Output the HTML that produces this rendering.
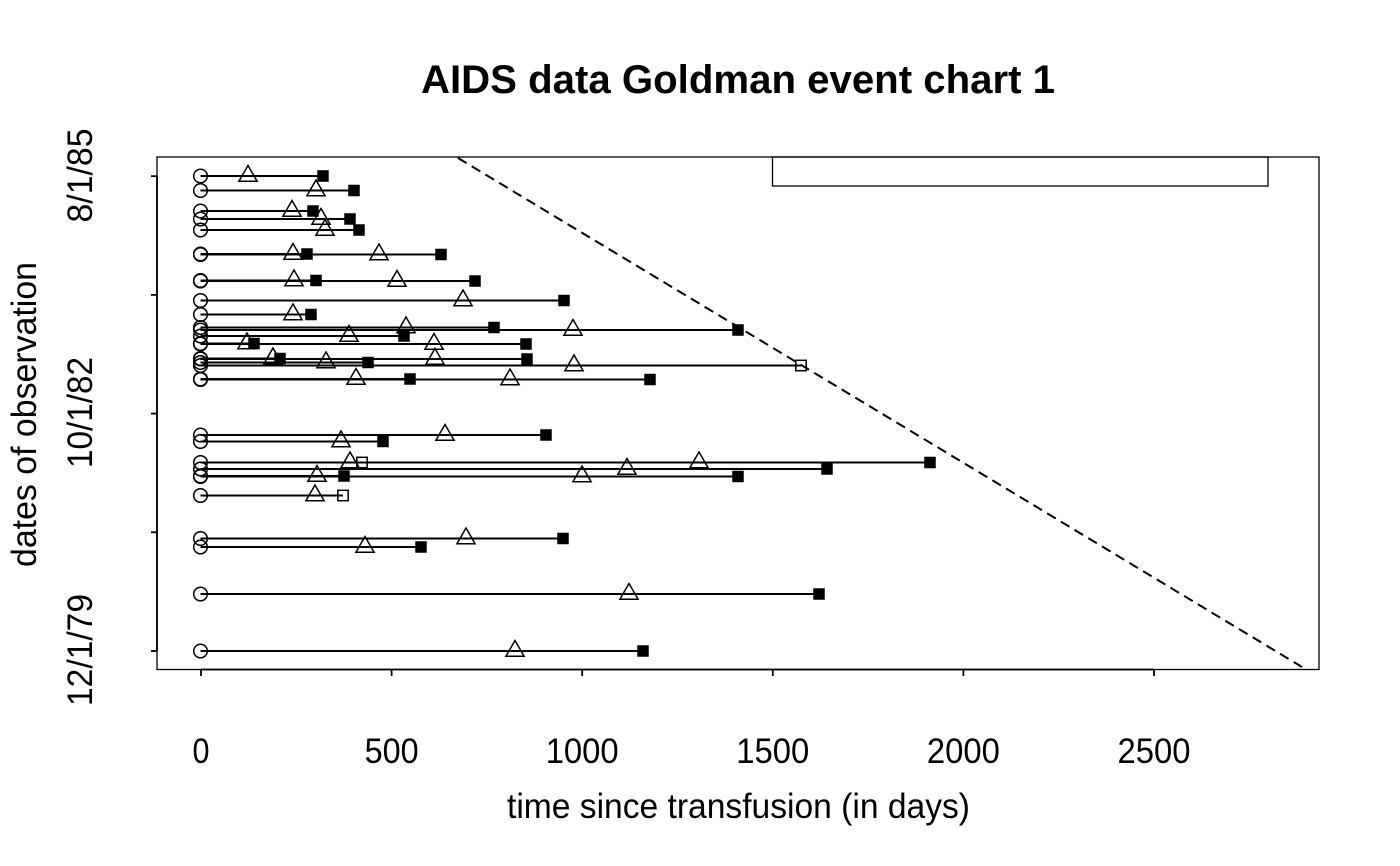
<!DOCTYPE html>
<html>
<head>
<meta charset="utf-8">
<style>
html,body{margin:0;padding:0;background:#fff;}
svg{display:block;}
text{font-family:"Liberation Sans",sans-serif;fill:#000;}
</style>
</head>
<body>
<svg width="1400" height="866" viewBox="0 0 1400 866" xmlns="http://www.w3.org/2000/svg">
<rect width="1400" height="866" fill="#fff"/>
<text x="738" y="93" font-size="40" font-weight="bold" text-anchor="middle" textLength="634" lengthAdjust="spacingAndGlyphs">AIDS data Goldman event chart 1</text>

<!-- box -->
<rect x="157" y="157" width="1162" height="512.5" fill="none" stroke="#000" stroke-width="1.3"/>
<!-- legend rect -->
<rect x="772.5" y="157" width="495.5" height="29" fill="none" stroke="#000" stroke-width="1.3"/>

<!-- x axis -->
<g stroke="#000" stroke-width="1.8" fill="none">
<line x1="201" y1="669.5" x2="1154" y2="669.5"/>
<line x1="201" y1="669.5" x2="201" y2="676"/>
<line x1="391.6" y1="669.5" x2="391.6" y2="676"/>
<line x1="582.2" y1="669.5" x2="582.2" y2="676"/>
<line x1="772.8" y1="669.5" x2="772.8" y2="676"/>
<line x1="963.4" y1="669.5" x2="963.4" y2="676"/>
<line x1="1154" y1="669.5" x2="1154" y2="676"/>
<!-- y axis -->
<line x1="157" y1="176.2" x2="157" y2="651"/>
<line x1="151" y1="176.2" x2="157" y2="176.2"/>
<line x1="151" y1="294.9" x2="157" y2="294.9"/>
<line x1="151" y1="413.6" x2="157" y2="413.6"/>
<line x1="151" y1="532.3" x2="157" y2="532.3"/>
<line x1="151" y1="651" x2="157" y2="651"/>
</g>

<g font-size="35" text-anchor="middle">
<text x="201" y="763" textLength="17" lengthAdjust="spacingAndGlyphs">0</text>
<text x="391.6" y="763" textLength="54" lengthAdjust="spacingAndGlyphs">500</text>
<text x="582.2" y="763" textLength="73" lengthAdjust="spacingAndGlyphs">1000</text>
<text x="772.8" y="763" textLength="73" lengthAdjust="spacingAndGlyphs">1500</text>
<text x="963.4" y="763" textLength="73" lengthAdjust="spacingAndGlyphs">2000</text>
<text x="1154" y="763" textLength="73" lengthAdjust="spacingAndGlyphs">2500</text>
</g>
<text x="738.5" y="818" font-size="35" text-anchor="middle" textLength="463" lengthAdjust="spacingAndGlyphs">time since transfusion (in days)</text>

<g font-size="35" text-anchor="middle">
<text transform="translate(92,175.5) rotate(-90)" textLength="94" lengthAdjust="spacingAndGlyphs">8/1/85</text>
<text transform="translate(92,412.5) rotate(-90)" textLength="111" lengthAdjust="spacingAndGlyphs">10/1/82</text>
<text transform="translate(92,650) rotate(-90)" textLength="112" lengthAdjust="spacingAndGlyphs">12/1/79</text>
</g>
<text transform="translate(36,414.5) rotate(-90)" font-size="35" text-anchor="middle" textLength="305" lengthAdjust="spacingAndGlyphs">dates of observation</text>

<!-- goldman dashed line -->
<line x1="458" y1="158" x2="1302" y2="667" stroke="#000" stroke-width="2" stroke-dasharray="10 6"/>

<!-- segments -->
<g stroke="#000" stroke-width="2">
<line x1="200.5" y1="176" x2="323" y2="176"/>
<line x1="200.5" y1="190.5" x2="354" y2="190.5"/>
<line x1="200.5" y1="211" x2="313" y2="211"/>
<line x1="200.5" y1="219" x2="350" y2="219"/>
<line x1="200.5" y1="230" x2="359" y2="230"/>
<line x1="200.5" y1="254" x2="307" y2="254"/>
<line x1="200.5" y1="254.5" x2="441" y2="254.5"/>
<line x1="200.5" y1="280.5" x2="316" y2="280.5"/>
<line x1="200.5" y1="281" x2="475" y2="281"/>
<line x1="200.5" y1="300.5" x2="564" y2="300.5"/>
<line x1="200.5" y1="314.5" x2="311" y2="314.5"/>
<line x1="200.5" y1="327.5" x2="494" y2="327.5"/>
<line x1="200.5" y1="330" x2="738" y2="330"/>
<line x1="200.5" y1="336" x2="404" y2="336"/>
<line x1="200.5" y1="343.5" x2="254" y2="343.5"/>
<line x1="200.5" y1="344" x2="526" y2="344"/>
<line x1="200.5" y1="358.5" x2="280" y2="358.5"/>
<line x1="200.5" y1="359" x2="527" y2="359"/>
<line x1="200.5" y1="362.5" x2="368" y2="362.5"/>
<line x1="200.5" y1="365.5" x2="801" y2="365.5"/>
<line x1="200.5" y1="379" x2="410" y2="379"/>
<line x1="200.5" y1="379.5" x2="650" y2="379.5"/>
<line x1="200.5" y1="435" x2="546" y2="435"/>
<line x1="200.5" y1="441.5" x2="383" y2="441.5"/>
<line x1="200.5" y1="462.5" x2="362" y2="462.5"/>
<line x1="200.5" y1="462.5" x2="930" y2="462.5"/>
<line x1="200.5" y1="469" x2="827" y2="469"/>
<line x1="200.5" y1="476" x2="344" y2="476"/>
<line x1="200.5" y1="476.5" x2="738" y2="476.5"/>
<line x1="200.5" y1="495.5" x2="343" y2="495.5"/>
<line x1="200.5" y1="538.5" x2="563" y2="538.5"/>
<line x1="200.5" y1="547" x2="421" y2="547"/>
<line x1="200.5" y1="594" x2="819" y2="594"/>
<line x1="200.5" y1="651" x2="643" y2="651"/>
</g>

<!-- circles -->
<g fill="none" stroke="#000" stroke-width="1.5">
<circle cx="200.5" cy="176" r="6.8"/>
<circle cx="200.5" cy="190.5" r="6.8"/>
<circle cx="200.5" cy="211" r="6.8"/>
<circle cx="200.5" cy="219" r="6.8"/>
<circle cx="200.5" cy="230" r="6.8"/>
<circle cx="200.5" cy="254" r="6.8"/>
<circle cx="200.5" cy="254.5" r="6.8"/>
<circle cx="200.5" cy="280.5" r="6.8"/>
<circle cx="200.5" cy="281" r="6.8"/>
<circle cx="200.5" cy="300.5" r="6.8"/>
<circle cx="200.5" cy="314.5" r="6.8"/>
<circle cx="200.5" cy="327.5" r="6.8"/>
<circle cx="200.5" cy="330" r="6.8"/>
<circle cx="200.5" cy="336" r="6.8"/>
<circle cx="200.5" cy="343.5" r="6.8"/>
<circle cx="200.5" cy="344" r="6.8"/>
<circle cx="200.5" cy="358.5" r="6.8"/>
<circle cx="200.5" cy="359" r="6.8"/>
<circle cx="200.5" cy="362.5" r="6.8"/>
<circle cx="200.5" cy="365.5" r="6.8"/>
<circle cx="200.5" cy="379" r="6.8"/>
<circle cx="200.5" cy="379.5" r="6.8"/>
<circle cx="200.5" cy="435" r="6.8"/>
<circle cx="200.5" cy="441.5" r="6.8"/>
<circle cx="200.5" cy="462.5" r="6.8"/>
<circle cx="200.5" cy="469" r="6.8"/>
<circle cx="200.5" cy="476" r="6.8"/>
<circle cx="200.5" cy="476.5" r="6.8"/>
<circle cx="200.5" cy="495.5" r="6.8"/>
<circle cx="200.5" cy="538.5" r="6.8"/>
<circle cx="200.5" cy="547" r="6.8"/>
<circle cx="200.5" cy="594" r="6.8"/>
<circle cx="200.5" cy="651" r="6.8"/>
</g>

<!-- triangles -->
<g fill="none" stroke="#000" stroke-width="1.5" stroke-linejoin="miter">
<polygon points="248,165.5 257.1,181.25 238.9,181.25"/>
<polygon points="316,180 325.1,195.75 306.9,195.75"/>
<polygon points="292,200.5 301.1,216.25 282.9,216.25"/>
<polygon points="321,208.5 330.1,224.25 311.9,224.25"/>
<polygon points="325,219.5 334.1,235.25 315.9,235.25"/>
<polygon points="293,243.5 302.1,259.25 283.9,259.25"/>
<polygon points="379,244 388.1,259.75 369.9,259.75"/>
<polygon points="294,270 303.1,285.75 284.9,285.75"/>
<polygon points="397,270.5 406.1,286.25 387.9,286.25"/>
<polygon points="463,290 472.1,305.75 453.9,305.75"/>
<polygon points="293,304 302.1,319.75 283.9,319.75"/>
<polygon points="406,317 415.1,332.75 396.9,332.75"/>
<polygon points="573,319.5 582.1,335.25 563.9,335.25"/>
<polygon points="349,325.5 358.1,341.25 339.9,341.25"/>
<polygon points="247,333 256.1,348.75 237.9,348.75"/>
<polygon points="434,333.5 443.1,349.25 424.9,349.25"/>
<polygon points="273,348 282.1,363.75 263.9,363.75"/>
<polygon points="435,348.5 444.1,364.25 425.9,364.25"/>
<polygon points="326,352 335.1,367.75 316.9,367.75"/>
<polygon points="574,355 583.1,370.75 564.9,370.75"/>
<polygon points="356,368.5 365.1,384.25 346.9,384.25"/>
<polygon points="510,369 519.1,384.75 500.9,384.75"/>
<polygon points="445,424.5 454.1,440.25 435.9,440.25"/>
<polygon points="341,431 350.1,446.75 331.9,446.75"/>
<polygon points="350,452 359.1,467.75 340.9,467.75"/>
<polygon points="699,452 708.1,467.75 689.9,467.75"/>
<polygon points="627,458.5 636.1,474.25 617.9,474.25"/>
<polygon points="317,465.5 326.1,481.25 307.9,481.25"/>
<polygon points="582,466 591.1,481.75 572.9,481.75"/>
<polygon points="315,485 324.1,500.75 305.9,500.75"/>
<polygon points="466,528 475.1,543.75 456.9,543.75"/>
<polygon points="365,536.5 374.1,552.25 355.9,552.25"/>
<polygon points="629,583.5 638.1,599.25 619.9,599.25"/>
<polygon points="515,640.5 524.1,656.25 505.9,656.25"/>
</g>

<!-- filled squares (death) -->
<g fill="#000">
<rect x="317.25" y="170.25" width="11.5" height="11.5"/>
<rect x="348.25" y="184.75" width="11.5" height="11.5"/>
<rect x="307.25" y="205.25" width="11.5" height="11.5"/>
<rect x="344.25" y="213.25" width="11.5" height="11.5"/>
<rect x="353.25" y="224.25" width="11.5" height="11.5"/>
<rect x="301.25" y="248.25" width="11.5" height="11.5"/>
<rect x="435.25" y="248.75" width="11.5" height="11.5"/>
<rect x="310.25" y="274.75" width="11.5" height="11.5"/>
<rect x="469.25" y="275.25" width="11.5" height="11.5"/>
<rect x="558.25" y="294.75" width="11.5" height="11.5"/>
<rect x="305.25" y="308.75" width="11.5" height="11.5"/>
<rect x="488.25" y="321.75" width="11.5" height="11.5"/>
<rect x="732.25" y="324.25" width="11.5" height="11.5"/>
<rect x="398.25" y="330.25" width="11.5" height="11.5"/>
<rect x="248.25" y="337.75" width="11.5" height="11.5"/>
<rect x="520.25" y="338.25" width="11.5" height="11.5"/>
<rect x="274.25" y="352.75" width="11.5" height="11.5"/>
<rect x="521.25" y="353.25" width="11.5" height="11.5"/>
<rect x="362.25" y="356.75" width="11.5" height="11.5"/>
<rect x="404.25" y="373.25" width="11.5" height="11.5"/>
<rect x="644.25" y="373.75" width="11.5" height="11.5"/>
<rect x="540.25" y="429.25" width="11.5" height="11.5"/>
<rect x="377.25" y="435.75" width="11.5" height="11.5"/>
<rect x="924.25" y="456.75" width="11.5" height="11.5"/>
<rect x="821.25" y="463.25" width="11.5" height="11.5"/>
<rect x="338.25" y="470.25" width="11.5" height="11.5"/>
<rect x="732.25" y="470.75" width="11.5" height="11.5"/>
<rect x="557.25" y="532.75" width="11.5" height="11.5"/>
<rect x="415.25" y="541.25" width="11.5" height="11.5"/>
<rect x="813.25" y="588.25" width="11.5" height="11.5"/>
<rect x="637.25" y="645.25" width="11.5" height="11.5"/>
</g>

<!-- open squares (censored) -->
<g fill="none" stroke="#000" stroke-width="1.5">
<rect x="795.8" y="360.3" width="10.4" height="10.4"/>
<rect x="356.8" y="457.3" width="10.4" height="10.4"/>
<rect x="337.8" y="490.3" width="10.4" height="10.4"/>
</g>
</svg>
</body>
</html>
